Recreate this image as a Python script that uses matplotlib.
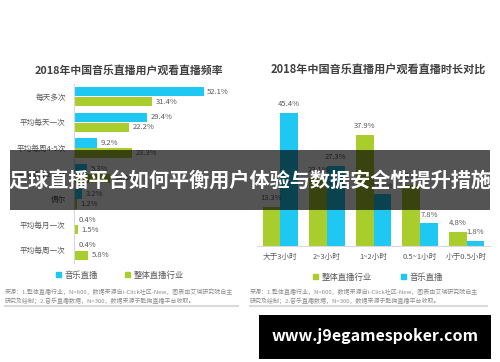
import matplotlib
matplotlib.use('Agg')
import matplotlib.pyplot as plt
from matplotlib.patches import Rectangle, Patch
from matplotlib.lines import Line2D
import numpy as np

plt.rcParams['font.family'] = ['Noto Sans CJK SC', 'DejaVu Sans']

# left chart: watching frequency
freq_cats = ['每天多次', '平均每天一次', '平均每周4-5次', '平均每周2-3次', '偶尔', '平均每月一次', '平均每周一次']
freq_music = [52.1, 29.4, 9.2, 5.3, 3.2, 0.4, 0.4]
freq_industry = [31.4, 22.2, 23.3, 14.6, 1.2, 1.5, 5.8]

# right chart: watching duration
dur_cats = ['大于3小时', '2~3小时', '1~2小时', '0.5~1小时', '小于0.5小时']
dur_industry = [13.3, 23.1, 37.9, 20.9, 4.8]
dur_music = [45.4, 27.3, 17.7, 7.8, 1.8]

title_left = '2018年中国音乐直播用户观看直播频率'
title_right = '2018年中国音乐直播用户观看直播时长对比'
note1 = '来源：1.整体直播行业，N=600，数据来源自i-Click社区-New，图表由艾瑞研究院自主'
note2 = '研究及绘制；2.音乐直播数据，N=300，数据来源于酷狗直播平台收取。'
banner = '足球直播平台如何平衡用户体验与数据安全性提升措施'
site = 'www.j9egamespoker.com'

CYAN = '#1FC8F2'
GREEN = '#AACD2E'
TXT = '#595959'

W, H = 500, 362
fig = plt.figure(figsize=(W / 100, H / 100), dpi=100)
fig.patch.set_facecolor('white')


def box(x0, y0, x1, y1):
    # pixel box (top-left origin) -> figure fraction rect
    return [x0 / W, 1 - y1 / H, (x1 - x0) / W, (y1 - y0) / H]


def px(x, y):
    return x / W, 1 - y / H


# ---- left chart ----
axl = fig.add_axes(box(74, 84, 248, 263))
y = np.arange(len(freq_cats))
off, h = 0.195, 0.36
axl.barh(y - off, freq_music, height=h, color=CYAN)
axl.barh(y + off, freq_industry, height=h, color=GREEN)
for i in range(len(y)):
    axl.text(freq_music[i] + 1.5, y[i] - off, f'{freq_music[i]}%', va='center', ha='left', fontsize=5.5, color=TXT)
    axl.text(freq_industry[i] + 1.5, y[i] + off, f'{freq_industry[i]}%', va='center', ha='left', fontsize=5.5, color=TXT)
axl.set_xlim(0, 70)
axl.set_ylim(6.5, -0.5)
axl.set_yticks(y)
axl.set_yticklabels(freq_cats, fontsize=5.5, color=TXT)
axl.tick_params(axis='y', length=0, pad=6)
axl.set_xticks([])
for s in ['top', 'right', 'bottom']:
    axl.spines[s].set_visible(False)
axl.spines['left'].set_color('#d9d9d9')
axl.spines['left'].set_linewidth(0.8)

fig.text(*px(129, 70), title_left, ha='center', va='center', fontsize=7.8, fontweight='bold', color='#404040')

hl = [Patch(color=CYAN, label='音乐直播'), Patch(color=GREEN, label='整体直播行业')]
fig.legend(handles=hl, loc='center', bbox_to_anchor=px(120, 275), ncol=2, frameon=False,
           fontsize=6, handlelength=0.6, handleheight=0.6, handletextpad=0.4, columnspacing=3.2,
           labelcolor=TXT)

# ---- right chart ----
axr = fig.add_axes(box(257, 99, 490, 246))
x = np.arange(len(dur_cats))
bw = 0.38
axr.bar(x - bw / 2, dur_industry, width=bw, color=GREEN)
axr.bar(x + bw / 2, dur_music, width=bw, color=CYAN)
for i in range(len(x)):
    axr.text(x[i] - bw / 2, dur_industry[i] + 1.5, f'{dur_industry[i]}%', ha='center', va='bottom', fontsize=5.5, color=TXT)
    axr.text(x[i] + bw / 2, dur_music[i] + 1.5, f'{dur_music[i]}%', ha='center', va='bottom', fontsize=5.5, color=TXT)
axr.set_xlim(-0.5, 4.5)
axr.set_ylim(0, 50)
axr.set_xticks(x)
axr.set_xticklabels(dur_cats, fontsize=5.5, color=TXT)
axr.tick_params(axis='x', length=0, pad=5)
axr.set_yticks([])
for s in ['top', 'right', 'left']:
    axr.spines[s].set_visible(False)
axr.spines['bottom'].set_color('#d9d9d9')
axr.spines['bottom'].set_linewidth(0.8)

fig.text(*px(378, 70), title_right, ha='center', va='center', fontsize=8, fontweight='bold', color='#404040')

hr = [Patch(color=GREEN, label='整体直播行业'), Patch(color=CYAN, label='音乐直播')]
fig.legend(handles=hr, loc='center', bbox_to_anchor=px(378, 277), ncol=2, frameon=False,
           fontsize=6, handlelength=0.6, handleheight=0.6, handletextpad=0.4, columnspacing=3.5,
           labelcolor=TXT)

# ---- footnotes ----
for x0, x1 in [(5, 238), (250, 487)]:
    fig.text(*px(x0, 292), note1, ha='left', va='center', fontsize=4.3, color='#8c8c8c')
    fig.text(*px(x0, 301), note2, ha='left', va='center', fontsize=4.3, color='#8c8c8c')
    fig.add_artist(Line2D([x0 / W, x1 / W], [1 - 306 / H] * 2, color='#d9d9d9', lw=1.5))

# ---- overlay banner ----
fig.add_artist(Rectangle(px(10, 210), 480 / W, 60 / H, transform=fig.transFigure,
                         facecolor='black', alpha=0.67, edgecolor='none', zorder=10))
fig.text(*px(250, 181), banner, ha='center', va='center', fontsize=14.5, fontweight='bold',
         color='white', zorder=11)

# ---- watermark ----
fig.add_artist(Rectangle(px(259, 359), 232 / W, 44 / H, transform=fig.transFigure,
                         facecolor='black', edgecolor='none', zorder=10))
fig.text(*px(375, 336), site, ha='center', va='center', fontsize=11.5, fontweight='bold',
         color='white', zorder=11)

fig.savefig('out.png', dpi=100)
